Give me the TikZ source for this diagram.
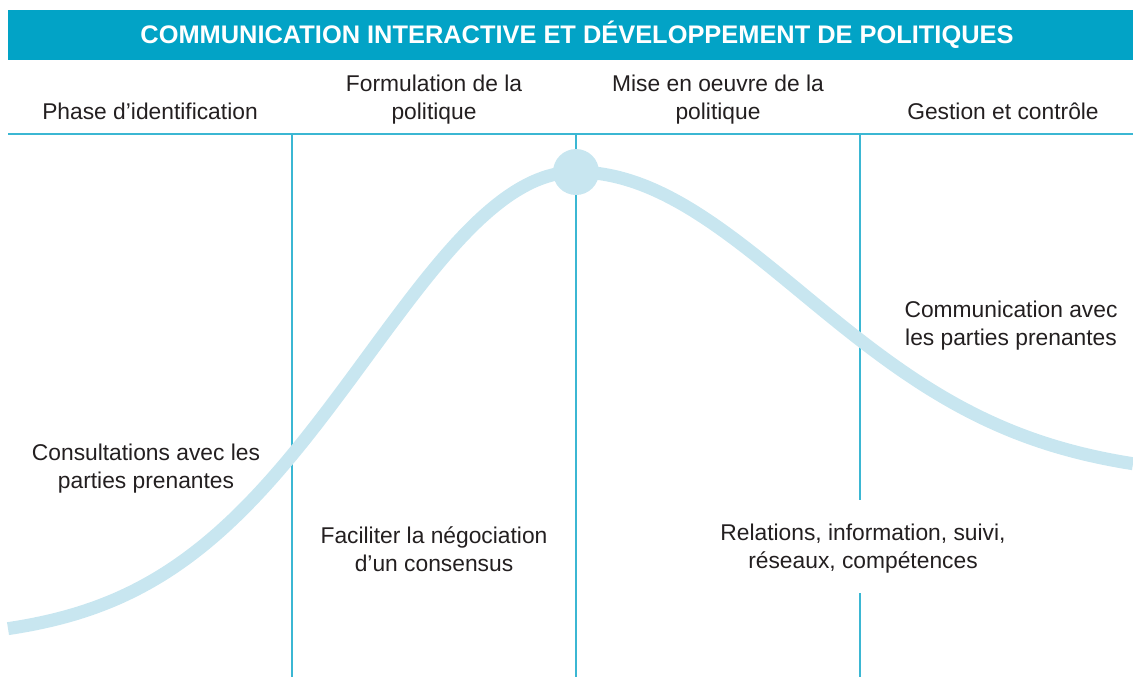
\documentclass[tikz,border=0pt]{standalone}
\usepackage{fontspec}
\setmainfont{Liberation Sans}
\definecolor{headblue}{HTML}{02A3C6}
\definecolor{gridblue}{HTML}{3BB7D3}
\definecolor{curveblue}{HTML}{C8E6F0}
\definecolor{txt}{HTML}{231F20}
\begin{document}
\begin{tikzpicture}[x=0.5pt,y=-0.5pt,
  gridline/.style={gridblue,line width=0.75pt},
  lbl/.style={align=center,font=\fontsize{11.4}{14}\selectfont,text=txt,inner sep=0pt},
  curve/.style={curveblue,line width=6.5pt}]
\useasboundingbox (0,0) rectangle (1133,677);
\fill[headblue] (8,10) rectangle (1133,60);
\node[font=\bfseries\fontsize{12.7}{14}\selectfont,text=white] (title) at (577,35) {COMMUNICATION INTERACTIVE ET DÉVELOPPEMENT DE POLITIQUES};
\node[lbl] (h1) at (150,111) {Phase d’identification};
\node[lbl] (h2) at (434,100) {Formulation de la\\politique};
\node[lbl] (h3) at (718,100) {Mise en oeuvre de la\\politique};
\node[lbl] (h4) at (1003,111) {Gestion et contrôle};
\draw[gridline] (8,134) -- (1133,134);
\draw[gridline] (292,134) -- (292,677);
\draw[gridline] (576,134) -- (576,677);
\draw[gridline] (860,134) -- (860,500);
\draw[gridline] (860,593) -- (860,677);
\draw[curve] plot[domain=8:576,samples=120] (\x,{640-468*exp(-((\x-576)/100)^2/8.687)});
\draw[curve] plot[domain=576:1133,samples=120] (\x,{478-306*exp(-((\x-576)/100)^2/10.13)});
\fill[curveblue] (576,172) circle[radius=11.5pt];
\node[lbl] (t1) at (146,469) {Consultations avec les\\parties prenantes};
\node[lbl] (t2) at (434,549) {Faciliter la négociation\\d’un consensus};
\node[lbl] (t3) at (863,549) {Relations, information, suivi,\\réseaux, compétences};
\node[lbl] (t4) at (1011,326) {Communication avec\\les parties prenantes};
\end{tikzpicture}
\end{document}
